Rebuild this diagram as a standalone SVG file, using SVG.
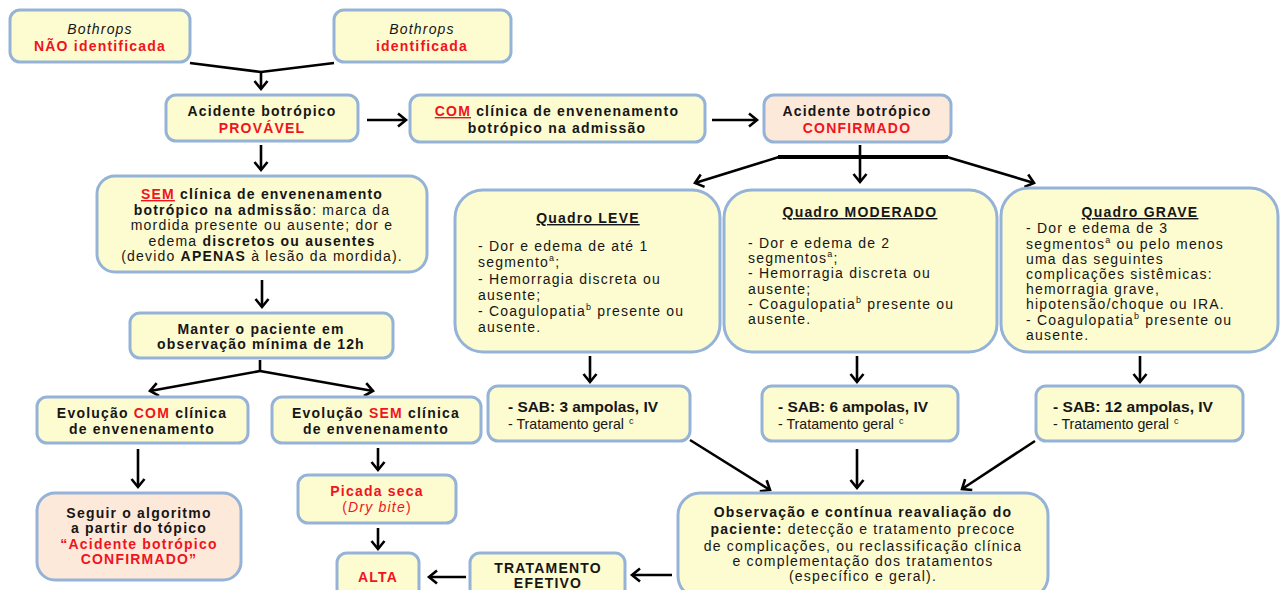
<svg xmlns="http://www.w3.org/2000/svg" width="1287" height="590" viewBox="0 0 1287 590">
<style>
.box{fill:#fdfbd0;stroke:#95b3d7;stroke-width:3}
.peach{fill:#fde9d9}
.t{font-family:"Liberation Sans",Arial,sans-serif;font-size:14px;fill:#161616;letter-spacing:1.2px;text-anchor:middle}
.l{text-anchor:start}
.b{font-weight:bold}
.r{fill:#f0141e}
.i{font-style:italic}
.u{text-decoration:underline}
.n{font-family:"Liberation Sans Narrow","Liberation Sans",Arial,sans-serif;letter-spacing:0;font-size:15px}
.sup{font-family:"Liberation Sans",Arial,sans-serif;font-size:9px;fill:#161616}
.conn{stroke:#000;stroke-width:2.6;fill:none}
</style>
<defs>
<marker id="ah" markerUnits="userSpaceOnUse" markerWidth="16" markerHeight="16" refX="10" refY="8" orient="auto">
<path d="M2,1.5 L10,8 L2,14.5" fill="none" stroke="#000" stroke-width="2.6"/>
</marker>
</defs>

<g id="connectors">
<polyline class="conn" points="190,63 261,72 334,63"/>
<line class="conn" x1="261" y1="72" x2="261" y2="89" marker-end="url(#ah)"/>
<line class="conn" x1="367" y1="120" x2="406" y2="120" marker-end="url(#ah)"/>
<line class="conn" x1="712" y1="120" x2="757" y2="120" marker-end="url(#ah)"/>
<line class="conn" x1="860" y1="145" x2="860" y2="182" marker-end="url(#ah)"/>
<line x1="778" y1="157" x2="948" y2="157" stroke="#000" stroke-width="4"/>
<line class="conn" x1="779" y1="157" x2="695" y2="183" marker-end="url(#ah)"/>
<line class="conn" x1="947" y1="157" x2="1034" y2="183" marker-end="url(#ah)"/>
<line class="conn" x1="261" y1="145" x2="261" y2="170" marker-end="url(#ah)"/>
<line class="conn" x1="262" y1="280" x2="262" y2="307" marker-end="url(#ah)"/>
<line class="conn" x1="260" y1="360" x2="260" y2="371"/>
<line class="conn" x1="260" y1="371" x2="150" y2="391" marker-end="url(#ah)"/>
<line class="conn" x1="260" y1="371" x2="373" y2="391" marker-end="url(#ah)"/>
<line class="conn" x1="138" y1="449" x2="138" y2="487" marker-end="url(#ah)"/>
<line class="conn" x1="378" y1="448" x2="378" y2="470" marker-end="url(#ah)"/>
<line class="conn" x1="378" y1="528" x2="378" y2="549" marker-end="url(#ah)"/>
<line class="conn" x1="466" y1="577" x2="429" y2="577" marker-end="url(#ah)"/>
<line class="conn" x1="672" y1="575" x2="632" y2="575" marker-end="url(#ah)"/>
<line class="conn" x1="590" y1="356" x2="590" y2="382" marker-end="url(#ah)"/>
<line class="conn" x1="857" y1="356" x2="857" y2="382" marker-end="url(#ah)"/>
<line class="conn" x1="1140" y1="356" x2="1140" y2="382" marker-end="url(#ah)"/>
<line class="conn" x1="690" y1="440" x2="770" y2="490" marker-end="url(#ah)"/>
<line class="conn" x1="857" y1="449" x2="857" y2="488" marker-end="url(#ah)"/>
<line class="conn" x1="1035" y1="441" x2="962" y2="489" marker-end="url(#ah)"/>
</g>

<g id="n1">
<rect class="box" x="10" y="10" width="180" height="52" rx="10"/>
<text class="t i" x="100" y="34">Bothrops</text>
<text class="t b r" x="100" y="51">NÃO identificada</text>
</g>
<g id="n2">
<rect class="box" x="334" y="10" width="177" height="52" rx="10"/>
<text class="t i" x="422" y="34">Bothrops</text>
<text class="t b r" x="422" y="51">identificada</text>
</g>
<g id="n3">
<rect class="box" x="166" y="95" width="192" height="46" rx="10"/>
<text class="t b" x="262" y="116">Acidente botrópico</text>
<text class="t b r" x="262" y="133">PROVÁVEL</text>
</g>
<g id="n4">
<rect class="box" x="410" y="95" width="295" height="47" rx="10"/>
<text class="t b" x="557" y="116"><tspan class="r u">COM</tspan> clínica de envenenamento</text>
<text class="t b" x="557" y="133">botrópico na admissão</text>
</g>
<g id="n5">
<rect class="box peach" x="764" y="95" width="187" height="47" rx="10"/>
<text class="t b" x="857" y="116">Acidente botrópico</text>
<text class="t b r" x="857" y="133">CONFIRMADO</text>
</g>
<g id="n6">
<rect class="box" x="97" y="176" width="330" height="96" rx="18"/>
<text class="t b" x="262" y="199"><tspan class="r u">SEM</tspan> clínica de envenenamento</text>
<text class="t" x="262" y="214.5"><tspan class="b">botrópico na admissão</tspan>: marca da</text>
<text class="t" x="262" y="230">mordida presente ou ausente; dor e</text>
<text class="t" x="262" y="245.5">edema <tspan class="b">discretos ou ausentes</tspan></text>
<text class="t" x="262" y="261">(devido <tspan class="b">APENAS</tspan> à lesão da mordida).</text>
</g>
<g id="n7">
<rect class="box" x="130" y="313" width="263" height="45" rx="10"/>
<text class="t b" x="261" y="334">Manter o paciente em</text>
<text class="t b" x="261" y="349">observação mínima de 12h</text>
</g>
<g id="n8">
<rect class="box" x="37" y="397" width="211" height="46" rx="10"/>
<text class="t b" x="142" y="418">Evolução <tspan class="r">COM</tspan> clínica</text>
<text class="t b" x="142" y="434">de envenenamento</text>
</g>
<g id="n9">
<rect class="box" x="272" y="397" width="209" height="46" rx="10"/>
<text class="t b" x="376" y="418">Evolução <tspan class="r">SEM</tspan> clínica</text>
<text class="t b" x="376" y="434">de envenenamento</text>
</g>
<g id="n10">
<rect class="box peach" x="37" y="493" width="204" height="87" rx="18"/>
<text class="t b" x="139" y="518">Seguir o algoritmo</text>
<text class="t b" x="139" y="533">a partir do tópico</text>
<text class="t b r" x="139" y="549">“Acidente botrópico</text>
<text class="t b r" x="139" y="564">CONFIRMADO”</text>
</g>
<g id="n11">
<rect class="box" x="298" y="475" width="158" height="48" rx="10"/>
<text class="t b r" x="377" y="496">Picada seca</text>
<text class="t r" x="377" y="512">(<tspan class="i">Dry bite</tspan>)</text>
</g>
<g id="n12">
<rect class="box" x="337" y="553" width="82" height="50" rx="10"/>
<text class="t b r" x="378" y="582">ALTA</text>
</g>
<g id="n13">
<rect class="box" x="470" y="553" width="155" height="50" rx="10"/>
<text class="t b" x="548" y="573">TRATAMENTO</text>
<text class="t b" x="548" y="588">EFETIVO</text>
</g>
<g id="n14">
<rect class="box" x="678" y="493" width="370" height="105" rx="22"/>
<text class="t b" x="863" y="517">Observação e contínua reavaliação do</text>
<text class="t" x="863" y="534"><tspan class="b">paciente:</tspan> detecção e tratamento precoce</text>
<text class="t" x="863" y="551">de complicações, ou reclassificação clínica</text>
<text class="t" x="863" y="566">e complementação dos tratamentos</text>
<text class="t" x="863" y="581">(específico e geral).</text>
</g>
<g id="q1">
<rect class="box" x="455" y="190" width="265" height="162" rx="28"/>
<text class="t b u" x="588" y="223">Quadro LEVE</text>
<text class="t l" x="478" y="251">- Dor e edema de até 1</text>
<text class="t l" x="478" y="267">segmento<tspan font-size="9" dy="-6">a</tspan><tspan dy="6">;</tspan></text>
<text class="t l" x="478" y="284">- Hemorragia discreta ou</text>
<text class="t l" x="478" y="300">ausente;</text>
<text class="t l" x="478" y="316">- Coagulopatia<tspan font-size="9" dy="-6">b</tspan><tspan dy="6"> presente ou</tspan></text>
<text class="t l" x="478" y="332">ausente.</text>
</g>
<g id="q2">
<rect class="box" x="724" y="190" width="273" height="162" rx="28"/>
<text class="t b u" x="860" y="217">Quadro MODERADO</text>
<text class="t l" x="748" y="248">- Dor e edema de 2</text>
<text class="t l" x="748" y="263">segmentos<tspan font-size="9" dy="-6">a</tspan><tspan dy="6">;</tspan></text>
<text class="t l" x="748" y="278">- Hemorragia discreta ou</text>
<text class="t l" x="748" y="294">ausente;</text>
<text class="t l" x="748" y="309">- Coagulopatia<tspan font-size="9" dy="-6">b</tspan><tspan dy="6"> presente ou</tspan></text>
<text class="t l" x="748" y="324">ausente.</text>
</g>
<g id="q3">
<rect class="box" x="1001" y="188" width="277" height="164" rx="28"/>
<text class="t b u" x="1140" y="217">Quadro GRAVE</text>
<text class="t l" x="1026" y="233">- Dor e edema de 3</text>
<text class="t l" x="1026" y="249">segmentos<tspan font-size="9" dy="-6">a</tspan><tspan dy="6"> ou pelo menos</tspan></text>
<text class="t l" x="1026" y="264">uma das seguintes</text>
<text class="t l" x="1026" y="279">complicações sistêmicas:</text>
<text class="t l" x="1026" y="294">hemorragia grave,</text>
<text class="t l" x="1026" y="309">hipotensão/choque ou IRA.</text>
<text class="t l" x="1026" y="325">- Coagulopatia<tspan font-size="9" dy="-6">b</tspan><tspan dy="6"> presente ou</tspan></text>
<text class="t l" x="1026" y="340">ausente.</text>
</g>
<g id="s1">
<rect class="box" x="488" y="386" width="202" height="55" rx="10"/>
<text class="t l n b" x="508" y="412" textLength="150" lengthAdjust="spacingAndGlyphs">- SAB: 3 ampolas, IV</text>
<text class="t l n" x="508" y="429" textLength="116" lengthAdjust="spacingAndGlyphs">- Tratamento geral</text>
<text class="sup" x="629" y="424">c</text>
</g>
<g id="s2">
<rect class="box" x="762" y="386" width="196" height="55" rx="10"/>
<text class="t l n b" x="778" y="412" textLength="150" lengthAdjust="spacingAndGlyphs">- SAB: 6 ampolas, IV</text>
<text class="t l n" x="778" y="429" textLength="116" lengthAdjust="spacingAndGlyphs">- Tratamento geral</text>
<text class="sup" x="899" y="424">c</text>
</g>
<g id="s3">
<rect class="box" x="1036" y="386" width="207" height="55" rx="10"/>
<text class="t l n b" x="1053" y="412" textLength="160" lengthAdjust="spacingAndGlyphs">- SAB: 12 ampolas, IV</text>
<text class="t l n" x="1053" y="429" textLength="116" lengthAdjust="spacingAndGlyphs">- Tratamento geral</text>
<text class="sup" x="1174" y="424">c</text>
</g>
</svg>
